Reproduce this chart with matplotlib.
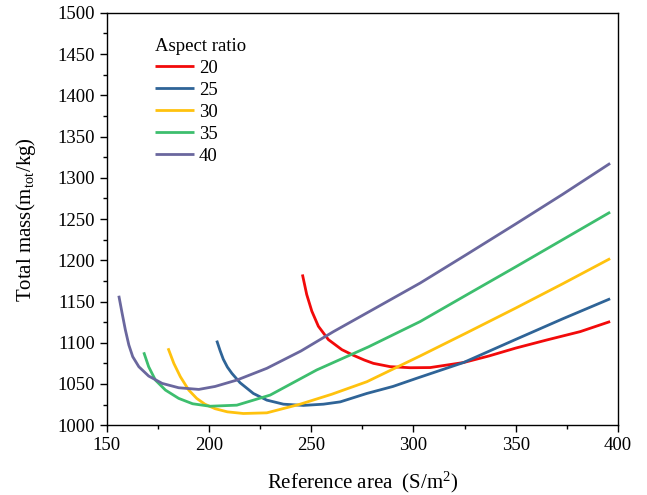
import matplotlib
matplotlib.use("Agg")
import matplotlib.pyplot as plt
from matplotlib.ticker import MultipleLocator

plt.rcParams['font.family'] = ['Liberation Serif', 'DejaVu Serif']
plt.rcParams['mathtext.fontset'] = 'custom'
plt.rcParams['mathtext.rm'] = 'Liberation Serif'
plt.rcParams['mathtext.it'] = 'Liberation Serif:italic'

labels = ['20', '25', '30', '35', '40']
colors = ['#F20A0A', '#2F6497', '#FFC20E', '#3DBE6E', '#6A679E']

x20 = [245.7, 247.8, 250.3, 253.5, 258.4, 265.0, 270.6, 276.0, 280.4, 288.6, 298.4, 308.2, 324.5, 337.0, 350.0, 365.3, 381.6, 396.2]
y20 = [1182.8, 1158.5, 1138.3, 1120.0, 1103.8, 1091.6, 1084.8, 1079.0, 1075.0, 1071.0, 1069.7, 1069.9, 1076.0, 1084.0, 1093.5, 1103.4, 1113.5, 1125.7]

x25 = [203.8, 205.5, 207.0, 209.0, 211.2, 215.2, 221.7, 228.3, 236.4, 246.2, 256.0, 264.2, 277.2, 290.0, 301.7, 324.5, 350.0, 373.0, 396.2]
y25 = [1102.6, 1090.0, 1080.0, 1070.5, 1062.9, 1051.5, 1038.5, 1030.4, 1025.5, 1024.0, 1025.5, 1028.3, 1038.5, 1047.0, 1057.0, 1076.0, 1104.0, 1129.0, 1153.3]

x30 = [180.0, 182.8, 186.0, 190.1, 194.0, 198.0, 203.0, 209.0, 216.8, 228.3, 244.6, 260.0, 277.2, 303.3, 326.0, 350.0, 373.0, 396.2]
y30 = [1093.3, 1075.0, 1058.8, 1042.6, 1032.5, 1025.5, 1020.0, 1016.2, 1014.2, 1015.0, 1025.5, 1037.5, 1052.7, 1084.0, 1112.0, 1142.0, 1171.5, 1202.0]

x35 = [168.1, 170.5, 173.8, 178.7, 185.2, 192.0, 200.5, 213.6, 229.9, 252.7, 278.0, 303.3, 326.0, 350.0, 373.0, 396.2]
y35 = [1088.4, 1070.9, 1054.7, 1042.6, 1032.5, 1026.0, 1023.0, 1024.3, 1036.5, 1067.0, 1095.0, 1125.7, 1158.0, 1192.0, 1225.0, 1258.3]

x40 = [155.9, 157.5, 159.1, 160.8, 162.7, 165.7, 170.5, 177.1, 185.2, 195.0, 203.0, 213.6, 228.3, 245.0, 260.9, 280.0, 303.3, 326.0, 350.0, 373.0, 396.2]
y40 = [1157.0, 1135.9, 1115.6, 1097.3, 1083.1, 1070.9, 1059.6, 1050.7, 1045.4, 1043.4, 1047.0, 1054.7, 1069.0, 1090.0, 1113.5, 1140.0, 1172.4, 1207.0, 1244.0, 1280.0, 1317.5]

xs = [x20, x25, x30, x35, x40]
ys = [y20, y25, y30, y35, y40]

fig = plt.figure(figsize=(6.47, 4.95), dpi=100)
ax = fig.add_axes([0.165, 0.141, 0.790, 0.833])

for x, y, c, l in zip(xs, ys, colors, labels):
    ax.plot(x, y, color=c, lw=2.0, label=l, solid_capstyle='butt', solid_joinstyle='round')

ax.set_xlim(150, 400)
ax.set_ylim(1000, 1500)
ax.xaxis.set_major_locator(MultipleLocator(50))
ax.xaxis.set_minor_locator(MultipleLocator(25))
ax.yaxis.set_major_locator(MultipleLocator(50))
ax.yaxis.set_minor_locator(MultipleLocator(25))
ax.tick_params(which='both', direction='out', top=False, right=False, labelsize=13.5, width=1.0)
ax.tick_params(which='major', length=5)
ax.tick_params(which='minor', length=3)
for s in ax.spines.values():
    s.set_linewidth(1.0)

ax.set_xlabel(r'Reference area  (S/m$^2$)', fontsize=15, labelpad=11)
ax.set_ylabel(r'Total mass(m$_{\mathrm{tot}}$/kg)', fontsize=15, labelpad=14)

leg = ax.legend(title='Aspect ratio', loc='upper left', bbox_to_anchor=(0.094, 0.94),
                frameon=False, fontsize=13.5, title_fontsize=13.5,
                handlelength=2.1, handletextpad=0.25, labelspacing=0.26, borderaxespad=0,
                borderpad=0)
leg._legend_box.align = 'left'

fig.savefig('out.png', dpi=100)
